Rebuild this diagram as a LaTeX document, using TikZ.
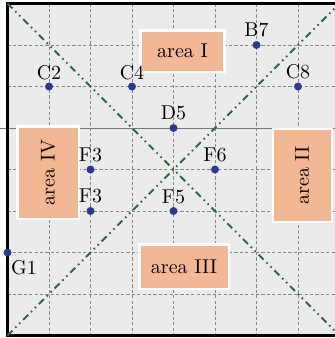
\documentclass[tikz,border=0pt]{standalone}
\definecolor{bggray}{RGB}{235,235,235}
\definecolor{gridgray}{RGB}{135,135,135}
\definecolor{axisgray}{RGB}{120,120,120}
\definecolor{diaggreen}{RGB}{45,105,60}
\definecolor{dotblue}{RGB}{45,55,140}
\definecolor{areafill}{RGB}{242,184,148}
\tikzset{
  gridline/.style={draw=gridgray, line width=0.4pt, dash pattern=on 1.6pt off 1.1pt},
  axisline/.style={draw=axisgray, line width=0.5pt},
  frameline/.style={draw=black, line width=1.5pt},
  diagline/.style={draw=diaggreen, line width=1pt, dash pattern=on 3.5pt off 2pt on 0.8pt off 2pt on 0.8pt off 2pt},
  dotnode/.style={circle, fill=dotblue, inner sep=0pt, minimum size=4pt},
  lab/.style={inner sep=0pt, anchor=south},
  areabox/.style={fill=areafill, draw=white, line width=1.25pt, inner sep=0pt},
}
\begin{document}
\begin{tikzpicture}[x=0.5pt,y=-0.5pt]
\useasboundingbox (0,0) rectangle (334,338);
\coordinate (TL) at (7.5,3.5);
\coordinate (TR) at (339.5,3.5);
\coordinate (BL) at (7.5,335.5);
\coordinate (BR) at (339.5,335.5);
\fill[bggray] (TL) rectangle (BR);
\foreach \k in {1,...,7} {
  \draw[gridline] ({7.5+41.5*\k},3.5) -- ({7.5+41.5*\k},335.5);
}
\foreach \k in {1,2,4,5,6,7} {
  \draw[gridline] (7.5,{3.5+41.5*\k}) -- (339.5,{3.5+41.5*\k});
}
\draw[axisline] (0,128) -- (340,128);
\draw[frameline] (TL) rectangle (BR);
\draw[diagline] (TL) -- (BR);
\draw[diagline] (BL) -- (TR);
% area boxes
\node[areabox, minimum width=42pt, minimum height=20.75pt] (A1) at (182.5,51) {area I};
\node[areabox, minimum width=44.75pt, minimum height=22.25pt] (A3) at (184,266.5) {area III};
\node[areabox, rotate=90, minimum width=46.25pt, minimum height=30.75pt] (A4) at (48,172.5) {area IV};
\node[areabox, rotate=90, minimum width=46.5pt, minimum height=29.5pt] (A2) at (302.25,175.25) {area II};
% points
\node[dotnode] (B7) at (256.5,45) {};
\node[dotnode] (C2) at (49,86.5) {};
\node[dotnode] (C4) at (132,86.5) {};
\node[dotnode] (C8) at (298,86.5) {};
\node[dotnode] (D5) at (173.5,128) {};
\node[dotnode] (F3a) at (90.5,169.5) {};
\node[dotnode] (F6) at (215,169.5) {};
\node[dotnode] (F3b) at (90.5,211) {};
\node[dotnode] (F5) at (173.5,211) {};
\node[dotnode] (G1) at (7.5,252.5) {};
% labels
\node[lab] (lB7) at ([yshift=3.6pt]B7.center) {B7};
\node[lab] (lC2) at ([yshift=3.2pt]C2.center) {C2};
\node[lab] (lC4) at ([yshift=3.2pt]C4.center) {C4};
\node[lab] (lC8) at ([yshift=3.6pt]C8.center) {C8};
\node[lab] (lD5) at ([yshift=3.8pt]D5.center) {D5};
\node[lab] (lF3a) at ([yshift=3.6pt]F3a.center) {F3};
\node[lab] (lF6) at ([yshift=3.4pt]F6.center) {F6};
\node[lab] (lF3b) at ([yshift=3.8pt]F3b.center) {F3};
\node[lab] (lF5) at ([yshift=3.5pt]F5.center) {F5};
\node[inner sep=0pt, anchor=north west] (lG1) at ([xshift=1.6pt,yshift=-3.6pt]G1.center) {G1};
\end{tikzpicture}
\end{document}
